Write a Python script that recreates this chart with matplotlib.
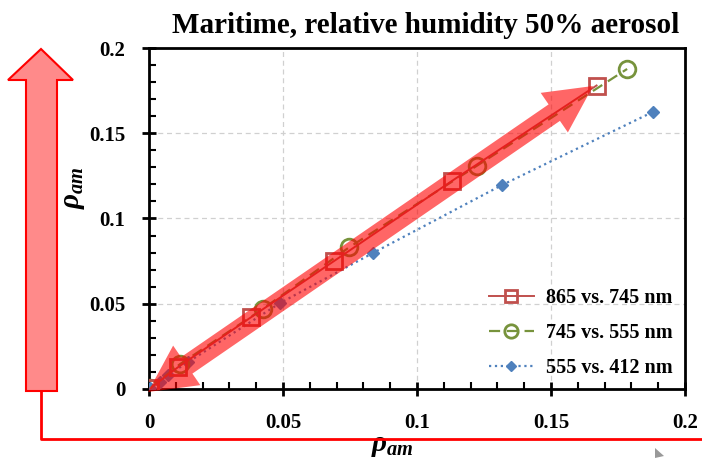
import numpy as np
import matplotlib
matplotlib.use("Agg")
import matplotlib.pyplot as plt
from matplotlib.patches import Polygon
from matplotlib.ticker import MultipleLocator

# data
x_865 = [0.0005, 0.011, 0.038, 0.069, 0.113, 0.167]
y_865 = [0.0005, 0.013, 0.042, 0.075, 0.122, 0.178]

x_745 = [0.0005, 0.0115, 0.0425, 0.0746, 0.1224, 0.1784]
y_745 = [0.0005, 0.0145, 0.047, 0.083, 0.131, 0.1877]

x_555 = [0.0005, 0.004, 0.0071, 0.0146, 0.0489, 0.0836, 0.1317, 0.188]
y_555 = [0.0005, 0.004, 0.0082, 0.0158, 0.0504, 0.0798, 0.1196, 0.1625]

labels = ["865 vs. 745 nm", "745 vs. 555 nm", "555 vs. 412 nm"]
title = "Maritime, relative humidity 50% aerosol"

plt.rcParams['font.family'] = ['Liberation Serif', 'DejaVu Serif']
plt.rcParams['font.weight'] = 'bold'
plt.rcParams['mathtext.fontset'] = 'custom'
plt.rcParams['mathtext.it'] = 'Liberation Serif:italic:bold'
plt.rcParams['mathtext.rm'] = 'Liberation Serif:bold'

W, H = 702, 458
fig = plt.figure(figsize=(W / 100, H / 100), dpi=100)
ax = fig.add_axes([149 / W, 1 - 389 / H, 536 / W, 341 / H])


def px(x, y):
    return (x / W, 1 - y / H)


def double_arrow(p0, p1, w, L, Hh):
    p0 = np.array(p0, float)
    p1 = np.array(p1, float)
    u = (p1 - p0) / np.linalg.norm(p1 - p0)
    n = np.array([-u[1], u[0]])
    pts = [p0, p0 + L * u + Hh * n, p0 + L * u + w * n,
           p1 - L * u + w * n, p1 - L * u + Hh * n, p1,
           p1 - L * u - Hh * n, p1 - L * u - w * n,
           p0 + L * u - w * n, p0 + L * u - Hh * n]
    return [px(*p) for p in pts]


ax.plot(x_555, y_555, color='#4F81BD', ls=':', lw=1.6, marker='D', ms=6,
        mfc='#4F81BD', mec='#4F81BD', label=labels[2], zorder=3)
ax.plot(x_745, y_745, color='#77933C', ls=(0, (5, 3)), lw=1.6, marker='o', ms=12,
        mfc='none', mec='#77933C', mew=2, label=labels[1], zorder=4)
ax.plot(x_865, y_865, color='#C0504D', ls='-', lw=1.4, marker='s', ms=11,
        mfc='none', mec='#C0504D', mew=2, label=labels[0], zorder=5)

ax.set_xlim(0, 0.2)
ax.set_ylim(0, 0.2)
ax.xaxis.set_major_locator(MultipleLocator(0.05))
ax.yaxis.set_major_locator(MultipleLocator(0.05))
ax.xaxis.set_minor_locator(MultipleLocator(0.01))
ax.yaxis.set_minor_locator(MultipleLocator(0.01))
ax.xaxis.set_major_formatter(plt.FuncFormatter(lambda v, p: f"{v:g}"))
ax.yaxis.set_major_formatter(plt.FuncFormatter(lambda v, p: f"{v:g}"))
ax.tick_params(which='major', direction='inout', length=10, width=2, labelsize=15)
ax.tick_params(axis='y', which='major', pad=12)
ax.tick_params(axis='x', which='major', pad=12)
ax.tick_params(which='minor', direction='in', length=5, width=1.5)
ax.tick_params(top=False, right=False, which='both')
for s in ax.spines.values():
    s.set_linewidth(2)
ax.grid(True, which='major', ls=(0, (4, 3)), color='#d0d0d0', lw=0.9)
ax.set_axisbelow(True)

ax.set_title(title, fontsize=21, fontweight='bold', x=0.517, pad=11)
ax.set_xlabel(r'$\rho_{am}$', fontsize=21)
ax.set_ylabel(r'$\rho_{am}$', fontsize=21)
ax.xaxis.set_label_coords(0.455, -0.13)
ax.yaxis.set_label_coords(-0.115, 0.59)

leg = ax.legend(handles=ax.get_lines()[::-1], loc='lower right', bbox_to_anchor=(1.01, -0.022),
                frameon=False, fontsize=14.5, handlelength=2.2, handletextpad=0.6,
                labelspacing=0.75, markerscale=0.8)

# decorations: big up arrow, bracket, double arrow along the data
up = [(41, 49), (73, 80), (57, 80), (57, 391), (26, 391), (26, 80), (8, 80)]
fig.patches.append(Polygon([px(*p) for p in up], closed=True, transform=fig.transFigure,
                           facecolor='#FF8A8A', edgecolor='red', lw=1.5))
fig.lines.append(plt.Line2D([41 / W, 41 / W, 1.0], [1 - 391 / H, 1 - 439 / H, 1 - 439 / H],
                            transform=fig.transFigure, color='red', lw=2))
arr = Polygon(double_arrow((148, 392), (593, 86), 10, 47, 24), closed=True,
              transform=fig.transFigure, facecolor='red', edgecolor='none', alpha=0.6, zorder=10)
fig.patches.append(arr)
cur = [(655, 448), (664, 456), (655, 458)]
fig.patches.append(Polygon([px(*p) for p in cur], closed=True, transform=fig.transFigure,
                           facecolor='#999999', edgecolor='none'))

fig.savefig('out.png', dpi=100)
